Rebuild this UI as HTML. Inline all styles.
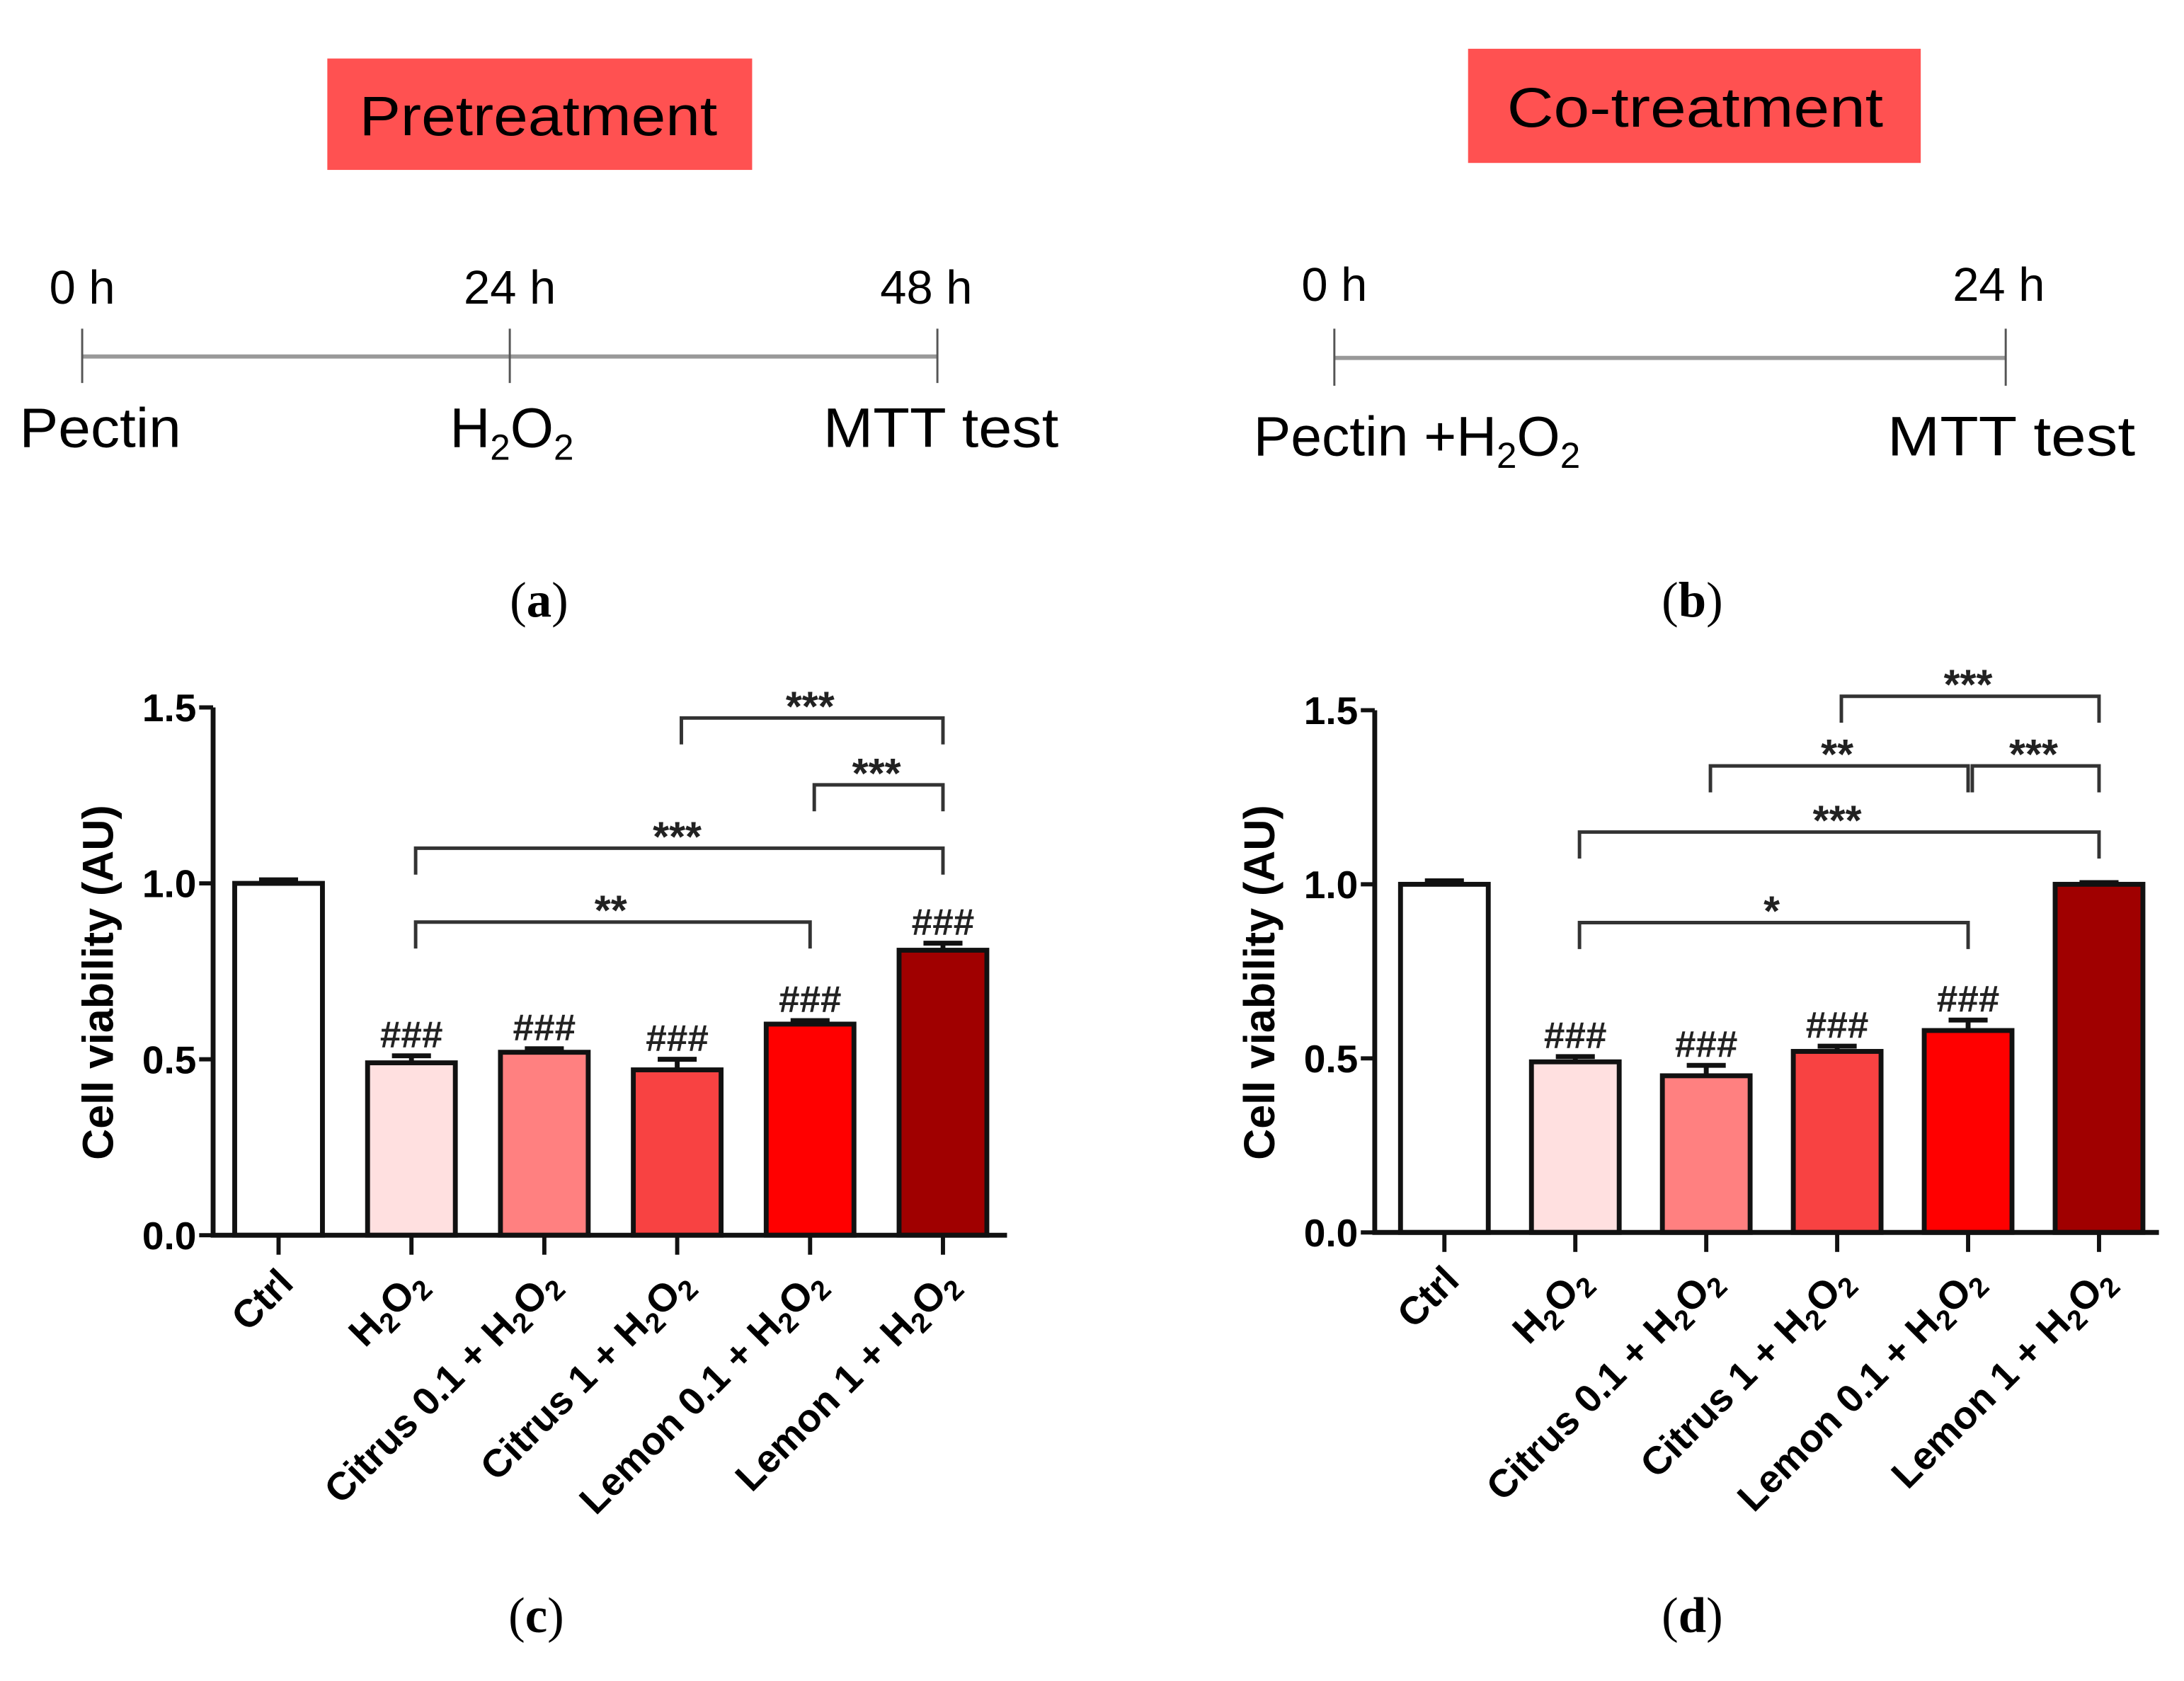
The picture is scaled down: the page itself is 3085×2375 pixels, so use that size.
<!DOCTYPE html>
<html><head><meta charset="utf-8"><style>
html,body{margin:0;padding:0;background:#fff;}
svg{display:block;}
.cal{font-family:"Liberation Sans",sans-serif;}
.ar{font-family:"Liberation Sans",sans-serif;font-weight:bold;}
.sf{font-family:"Liberation Serif",serif;}
</style></head><body>
<svg id="fig" width="3085" height="2375" viewBox="0 0 1568 1207.1" xmlns="http://www.w3.org/2000/svg">
<g>
<rect x="235" y="42" width="305" height="80" fill="#ff5151"/>
<text x="258" y="97" class="cal" font-size="40" textLength="257" lengthAdjust="spacingAndGlyphs">Pretreatment</text>
<line x1="59" y1="256" x2="673" y2="256" stroke="#999" stroke-width="3"/>
<line x1="59" y1="236" x2="59" y2="275" stroke="#555" stroke-width="1.5"/>
<line x1="366" y1="236" x2="366" y2="275" stroke="#555" stroke-width="1.5"/>
<line x1="673" y1="236" x2="673" y2="275" stroke="#555" stroke-width="1.5"/>
<text x="59" y="218" text-anchor="middle" class="cal" font-size="34">0 h</text>
<text x="366" y="218" text-anchor="middle" class="cal" font-size="34">24 h</text>
<text x="665" y="218" text-anchor="middle" class="cal" font-size="34">48 h</text>
<text x="14" y="321" class="cal" font-size="40" textLength="116" lengthAdjust="spacingAndGlyphs">Pectin</text>
<text x="323" y="321" class="cal" font-size="40">H<tspan font-size="26" dy="9">2</tspan><tspan dy="-9">O</tspan><tspan font-size="26" dy="9">2</tspan></text>
<text x="591" y="321" class="cal" font-size="40" textLength="169" lengthAdjust="spacingAndGlyphs">MTT test</text>
<text x="387" y="443" text-anchor="middle" class="sf" font-size="36">(<tspan font-weight="bold">a</tspan>)</text>
</g>
<g>
<rect x="1054" y="35" width="325" height="82" fill="#ff5151"/>
<text x="1082" y="91" class="cal" font-size="40" textLength="270" lengthAdjust="spacingAndGlyphs">Co-treatment</text>
<line x1="958" y1="257" x2="1440" y2="257" stroke="#999" stroke-width="3"/>
<line x1="958" y1="236" x2="958" y2="277" stroke="#555" stroke-width="1.5"/>
<line x1="1440" y1="236" x2="1440" y2="277" stroke="#555" stroke-width="1.5"/>
<text x="958" y="216" text-anchor="middle" class="cal" font-size="34">0 h</text>
<text x="1435" y="216" text-anchor="middle" class="cal" font-size="34">24 h</text>
<text x="900" y="327" class="cal" font-size="40">Pectin +H<tspan font-size="26" dy="9">2</tspan><tspan dy="-9">O</tspan><tspan font-size="26" dy="9">2</tspan></text>
<text x="1355" y="327" class="cal" font-size="40" textLength="178" lengthAdjust="spacingAndGlyphs">MTT test</text>
<text x="1215" y="443" text-anchor="middle" class="sf" font-size="36">(<tspan font-weight="bold">b</tspan>)</text>
</g>
<g id="chartC"></g>
<g id="chartD"></g>
<text x="385" y="1172" text-anchor="middle" class="sf" font-size="36">(<tspan font-weight="bold">c</tspan>)</text>
<text x="1215" y="1172" text-anchor="middle" class="sf" font-size="36">(<tspan font-weight="bold">d</tspan>)</text>
</svg>
<script>
const categories = ["Ctrl","H2O2","Citrus 0.1 + H2O2","Citrus 1 + H2O2","Lemon 0.1 + H2O2","Lemon 1 + H2O2"];
const barColors = ["#ffffff","#ffe0e0","#ff8080","#f84242","#ff0000","#a00000"];
const valuesC = [1.0,0.49,0.52,0.47,0.60,0.81];
const errorsC = [0.01,0.02,0.01,0.03,0.01,0.02];
const hashC = ["",  "###","###","###","###","###"];
const valuesD = [1.0,0.49,0.45,0.52,0.58,1.0];
const errorsD = [0.01,0.015,0.03,0.015,0.03,0.005];
const hashD = ["","###","###","###","###",""];
const yTicks = [0.0,0.5,1.0,1.5];
const yTickLabels = ["0.0","0.5","1.0","1.5"];
// brackets: [fromIndex, toIndex, level value, label]
const bracketsC = [[3,5,1.47,"***"],[4,5,1.28,"***"],[1,5,1.10,"***"],[1,4,0.89,"**"]];
const bracketsD = [[3,5,1.54,"***"],[2,4,1.34,"**"],[4,5,1.34,"***"],[1,5,1.15,"***"],[1,4,0.89,"*"]];
const NS="http://www.w3.org/2000/svg";
function mk(parent,tag,attrs,text){const e=document.createElementNS(NS,tag);for(const k in attrs)e.setAttribute(k,attrs[k]);if(text!==undefined)e.textContent=text;parent.appendChild(e);return e;}
function drawChart(g,cfg,values,errors,hashes,brackets){
  const y=v=>cfg.y0-(cfg.y0-cfg.y15)*v/1.5;
  const x=i=>cfg.x0+cfg.step*i;
  const bw=63;
  values.forEach((v,i)=>{
    const r=mk(g,'rect',{x:x(i)-bw/2,y:y(v),width:bw,height:y(0)-y(v),fill:barColors[i],stroke:'#111','stroke-width':3.5});
    
    
    const e=mk(g,'path',{d:`M${x(i)} ${y(v)} V${y(v+errors[i])} M${x(i)-14} ${y(v+errors[i])} H${x(i)+14}`,stroke:'#111','stroke-width':3.5,fill:'none'});
    
    
    if(hashes[i]){const t=mk(g,'text',{x:x(i),y:y(v+errors[i])-6,'text-anchor':'middle','font-size':27,class:'ar','font-weight':'normal',fill:'#222'},hashes[i]);
      
      }
    const tk=mk(g,'line',{x1:x(i),y1:y(0),x2:x(i),y2:y(0)+14,stroke:'#111','stroke-width':3});
    
    
    const lab=mk(g,'text',{class:'ar','font-size':28,'text-anchor':'end',transform:`translate(${x(i)+12},${y(0)+36}) rotate(-45)`});
    
    
    const nm=categories[i];
    if(nm.endsWith('H2O2')){
      lab.appendChild(document.createTextNode(nm.slice(0,-4)+'H'));
      mk(lab,'tspan',{'font-size':20,dy:6},'2');
      mk(lab,'tspan',{dy:-6},'O');
      mk(lab,'tspan',{'font-size':20,dy:6},'2');
    } else lab.textContent=nm;
  });
  const ax=mk(g,'path',{d:`M${cfg.ax} ${y(1.5)} V${y(0)} H${cfg.axEnd}`,stroke:'#111','stroke-width':3.5,fill:'none'});
  
  
  yTicks.forEach((t,k)=>{
    mk(g,'line',{x1:cfg.ax-10,y1:y(t),x2:cfg.ax,y2:y(t),stroke:'#111','stroke-width':3});
    const tl=mk(g,'text',{x:cfg.ax-12,y:y(t)+10,'text-anchor':'end',class:'ar','font-size':28},yTickLabels[k]);
    
    
  });
  const yt=mk(g,'text',{class:'ar','font-weight':'normal','font-size':31,'text-anchor':'middle',transform:`translate(${cfg.ax-72},${y(0.75)+8}) rotate(-90)`},'Cell viability (AU)');
  
  
  brackets.forEach((b,k)=>{
    const ly=y(b[2]);
    const p=mk(g,'path',{d:`M${x(b[0])+3} ${ly+19} V${ly} H${x(b[1])} V${ly+19}`,stroke:'#333','stroke-width':2.5,fill:'none'});
    
    
    const s=mk(g,'text',{x:(x(b[0])+x(b[1]))/2,y:ly+2,'text-anchor':'middle',class:'ar','font-weight':'normal','font-size':30,fill:'#222'},b[3]);
    
    
  });
}
drawChart(document.getElementById('chartC'),{x0:200,step:95.4,y0:887,y15:508,ax:153,axEnd:723},valuesC,errorsC,hashC,bracketsC);
drawChart(document.getElementById('chartD'),{x0:1037,step:94,y0:885,y15:510,ax:987,axEnd:1550},valuesD,errorsD,hashD,bracketsD);
</script>
</body></html>
